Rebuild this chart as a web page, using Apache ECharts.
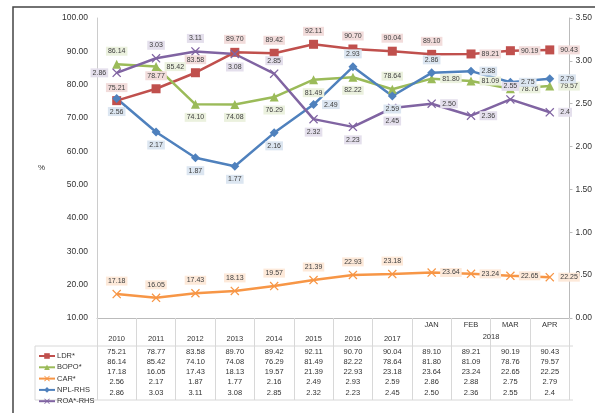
<!DOCTYPE html>
<html>
<head>
<meta charset="utf-8">
<script src="https://cdn.jsdelivr.net/npm/echarts@6/dist/echarts.min.js"></script>
<style>
  html, body { margin: 0; padding: 0; background: #fff; }
  #chart { width: 595px; height: 413px; }
</style>
</head>
<body>
<div id="chart"></div>
<script>
// categories and values
var categories = ['2010', '2011', '2012', '2013', '2014', '2015', '2016', '2017', 'JAN', 'FEB', 'MAR', 'APR'];
var months = ['JAN', 'FEB', 'MAR', 'APR'];
var ldr = [75.21, 78.77, 83.58, 89.70, 89.42, 92.11, 90.70, 90.04, 89.10, 89.21, 90.19, 90.43];
var bopo = [86.14, 85.42, 74.10, 74.08, 76.29, 81.49, 82.22, 78.64, 81.80, 81.09, 78.76, 79.57];
var car = [17.18, 16.05, 17.43, 18.13, 19.57, 21.39, 22.93, 23.18, 23.64, 23.24, 22.65, 22.25];
var npl = [2.56, 2.17, 1.87, 1.77, 2.16, 2.49, 2.93, 2.59, 2.86, 2.88, 2.75, 2.79];
var roa = [2.86, 3.03, 3.11, 3.08, 2.85, 2.32, 2.23, 2.45, 2.50, 2.36, 2.55, 2.4];
var leftTicks = { min: 10, max: 100, interval: 10 };
var rightTicks = { min: 0, max: 3.5, interval: 0.5 };

// where each data label sits (style only)
var ldrPos = ['top', 'top', 'top', 'top', 'top', 'top', 'top', 'top', 'top', 'right', 'right', 'right'];
var bopoPos = ['top', 'right', 'bottom', 'bottom', 'bottom', 'bottom', 'bottom', 'top', 'right', 'right', 'right', 'right'];
var carPos = ['top', 'top', 'top', 'top', 'top', 'top', 'top', 'top', 'right', 'right', 'right', 'right'];
var nplPos = ['bottom', 'bottom', 'bottom', 'bottom', 'bottom', 'right', 'top', 'bottom', 'top', 'right', 'right', 'right'];
var roaPos = ['left', 'top', 'top', 'bottom', 'top', 'bottom', 'bottom', 'bottom', 'right', 'right', 'top', 'right'];

function fmt(v) {
    // 2.4 is printed as-is in the source table
    return v === 2.4 ? '2.4' : v.toFixed(2);
}

var xMark = 'path://M1,0L5,4L9,0L10,1L6,5L10,9L9,10L5,6L1,10L0,9L4,5L0,1Z';
var font = 'Liberation Sans';

function makeSeries(name, values, pos, color, symbol, size, bg, yIdx) {
    return {
        name: name,
        type: 'line',
        yAxisIndex: yIdx,
        symbol: symbol,
        symbolSize: size,
        lineStyle: { width: 2.5, color: color },
        itemStyle: { color: color },
        data: values.map(function (v, i) {
            return { value: v, label: { position: pos[i] } };
        }),
        label: {
            show: true,
            formatter: function (p) { return fmt(p.value); },
            fontSize: 7,
            fontFamily: font,
            color: '#404040',
            backgroundColor: bg,
            padding: [1, 2],
            distance: 4
        }
    };
}

function rowAxis(values, offset) {
    return {
        type: 'category',
        gridIndex: 0,
        position: 'bottom',
        offset: offset,
        data: categories,
        axisLine: { show: false },
        axisTick: { show: false },
        axisLabel: {
            interval: 0,
            margin: 0,
            fontSize: 7.5,
            fontFamily: font,
            color: '#333',
            formatter: function (v, i) { return fmt(values[i]); }
        }
    };
}

var chart = echarts.init(document.getElementById('chart'));

var option = {
    animation: false,
    color: ['#c0504d', '#9bbb59', '#f79646', '#4f81bd', '#8064a2'],
    grid: { left: 97, right: 22, top: 18, bottom: 95 },
    legend: {
        orient: 'vertical',
        left: 33,
        top: 347,
        itemWidth: 16,
        itemHeight: 7,
        itemGap: 3.3,
        textStyle: { fontSize: 7.5, fontFamily: font, color: '#333', padding: [0, 0, 0, -3] },
        data: ['LDR*', 'BOPO*', 'CAR*', 'NPL-RHS', 'ROA*-RHS']
    },
    xAxis: [
        {
            type: 'category',
            data: categories,
            boundaryGap: true,
            axisLine: { lineStyle: { color: '#bbb' } },
            axisTick: { show: true, interval: 0, length: 82, lineStyle: { color: '#d8d8d8' } },
            axisLabel: {
                interval: 0,
                margin: 0,
                lineHeight: 14,
                fontSize: 7.5,
                fontFamily: font,
                color: '#333',
                formatter: function (v) {
                    return months.indexOf(v) >= 0 ? v : '\n' + v;
                }
            }
        },
        {
            type: 'category',
            gridIndex: 0,
            position: 'bottom',
            offset: 15,
            data: categories,
            axisLine: { show: false },
            axisTick: { show: false },
            axisLabel: {
                interval: 0,
                margin: 0,
                fontSize: 7.5,
                fontFamily: font,
                color: '#333',
                padding: [0, 0, 0, 40],
                formatter: function (v) { return v === 'FEB' ? '2018' : ''; }
            }
        },
        rowAxis(ldr, 29.5),
        rowAxis(bopo, 39.8),
        rowAxis(car, 50.1),
        rowAxis(npl, 60.4),
        rowAxis(roa, 70.7)
    ],
    yAxis: [
        {
            type: 'value',
            min: leftTicks.min,
            max: leftTicks.max,
            interval: leftTicks.interval,
            name: '%',
            nameLocation: 'middle',
            nameGap: 52,
            nameRotate: 0,
            nameTextStyle: { fontSize: 8, fontFamily: font, color: '#333' },
            axisLine: { show: true, lineStyle: { color: '#ccc' } },
            axisTick: { show: false },
            splitLine: { show: false },
            axisLabel: {
                margin: 9,
                fontSize: 8.5,
                fontFamily: font,
                color: '#333',
                formatter: function (v) { return v.toFixed(2); }
            }
        },
        {
            type: 'value',
            min: rightTicks.min,
            max: rightTicks.max,
            interval: rightTicks.interval,
            position: 'right',
            axisLine: { show: true, lineStyle: { color: '#bbb' } },
            axisTick: { show: true, length: 3, lineStyle: { color: '#bbb' } },
            splitLine: { show: false },
            axisLabel: {
                margin: 6,
                fontSize: 8.5,
                fontFamily: font,
                color: '#333',
                formatter: function (v) { return v.toFixed(2); }
            }
        }
    ],
    series: [
        makeSeries('LDR*', ldr, ldrPos, '#c0504d', 'rect', 9, '#f2dcdb', 0),
        makeSeries('BOPO*', bopo, bopoPos, '#9bbb59', 'triangle', 9, '#ebf1de', 0),
        makeSeries('CAR*', car, carPos, '#f79646', xMark, 9, '#fde9d9', 0),
        makeSeries('NPL-RHS', npl, nplPos, '#4f81bd', 'diamond', 9, '#dce6f1', 1),
        makeSeries('ROA*-RHS', roa, roaPos, '#8064a2', xMark, 9, '#e4dfec', 1)
    ],
    graphic: [
        {
            type: 'rect',
            shape: { x: 13, y: 7, width: 600, height: 420 },
            style: { fill: null, stroke: '#444', lineWidth: 1.5 },
            silent: true
        },
        {
            type: 'polyline',
            shape: { points: [[35, 346], [573, 346]] },
            style: { stroke: '#d8d8d8', lineWidth: 1 },
            silent: true
        },
        {
            type: 'polyline',
            shape: { points: [[35, 346], [35, 400], [573, 400]] },
            style: { fill: null, stroke: '#d8d8d8', lineWidth: 1 },
            silent: true
        }
    ]
};

chart.setOption(option);
</script>
</body>
</html>
